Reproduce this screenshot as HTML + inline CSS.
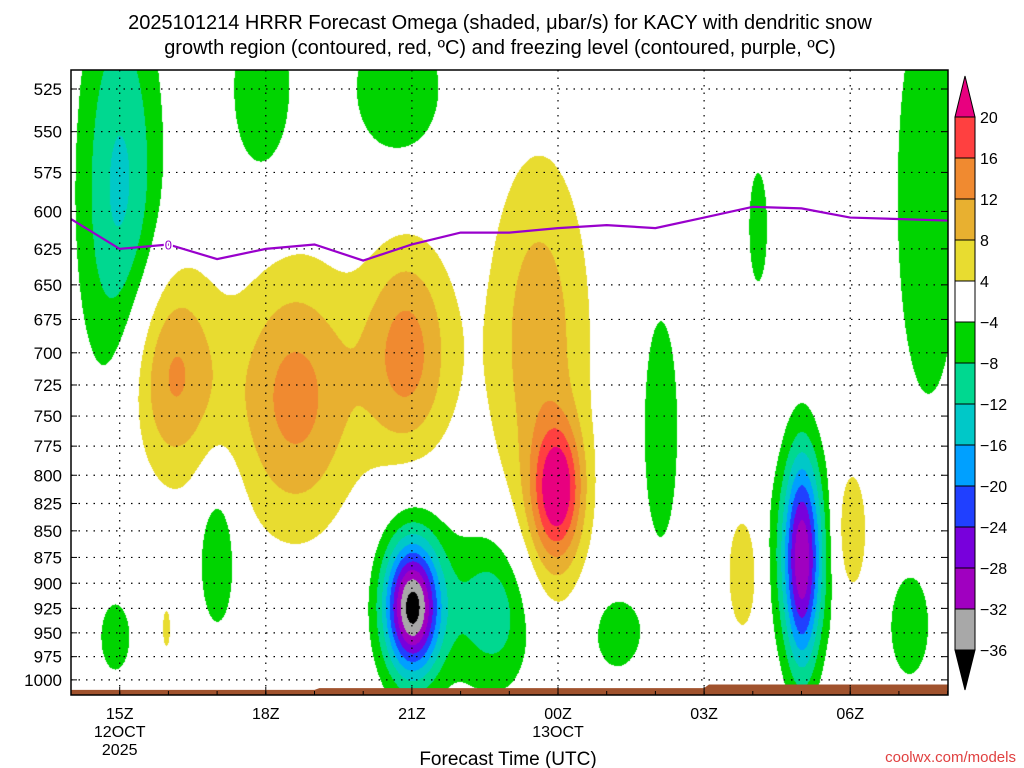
<!DOCTYPE html>
<html><head><meta charset="utf-8">
<style>
body{margin:0;background:#fff;width:1024px;height:768px;overflow:hidden;font-family:"Liberation Sans",sans-serif}
#wrap{position:relative;width:1024px;height:768px}
canvas{position:absolute;left:71px;top:70px}
svg{position:absolute;left:0;top:0}
</style></head><body>
<div id="wrap">
<canvas id="cv" width="877" height="625"></canvas>
<svg id="sv" width="1024" height="768"></svg>
</div>
<script>
// ---- data ----
const pLevels=[525,550,575,600,625,650,675,700,725,750,775,800,825,850,875,900,925,950,975,1000];
const timeHours=[1,4,7,10,13,16];
const timeLabels1=["15Z","18Z","21Z","00Z","03Z","06Z"];
const timeLabels2=["12OCT","","","13OCT","",""];
const timeLabels3=["2025","","","","",""];
// omega features: hour from 14Z, pressure center, amplitude (ubar/s), spread hours, spread hPa
const blobT=[2.0,4.6,6.9,9.6,10.0,13.8,16.0,1.95,1.0,3.9,6.7,7.0,7.0,8.7,15.0,15.0,3.0,0.9,11.2,12.1,14.1,17.6,17.2,9.8];
const blobP=[715,735,700,690,810,890,850,945,590,525,525,925,910,925,880,870,870,955,950,760,610,590,945,860];
const blobA=[13.5,13.5,13.5,10.5,17,8,9,6,-13,-7.5,-7,-30,-8,-11,-22,-10,-8.5,-6,-6.5,-7.5,-6,-7,-6.5,6];
const blobST=[0.7,0.9,0.65,0.75,0.35,0.25,0.25,0.08,0.6,0.5,0.8,0.38,0.6,0.65,0.25,0.5,0.3,0.3,0.45,0.3,0.2,0.6,0.35,0.5];
const blobSP=[60,75,60,100,40,45,45,20,100,40,35,45,70,60,75,70,55,35,35,80,40,120,45,60];
const levels=[-36,-32,-28,-24,-20,-16,-12,-8,-4,4,8,12,16,20];
const colors=["#000000","#a8a8a8","#a000c0","#7800dc","#2040ff","#00a0ff","#00c8c8","#00d890","#00d400","#ffffff","#e8dc30","#e8b030","#f08a30","#ff4040","#e8007f"];
const frzHours=[0,1,2,3,4,5,6,7,8,9,10,11,12,13,14,15,16,18];
const frzP=[605,625,622,632,625,622,633,622,614,614,611,609,611,604,597,598,604,606];
const sfcHours=[0,5,5.1,13,13.1,18];
const sfcP=[1011,1011,1009,1009,1005,1005];
// ---- axes ----
const X0=71,X1=948,Y0=70,Y1=695;
const xS=h=>X0+h*48.7;
const yS=p=>89+917*(Math.log(p)-Math.log(525));
const hInv=x=>(x-X0)/48.7;
const pInv=y=>525*Math.exp((y-89)/917);
// ---- field ----
const cv=document.getElementById('cv'),ctx=cv.getContext('2d');
const W=cv.width,H=cv.height,img=ctx.createImageData(W,H);
const rgb=colors.map(c=>[parseInt(c.substr(1,2),16),parseInt(c.substr(3,2),16),parseInt(c.substr(5,2),16)]);
for(let j=0;j<H;j++){const p=pInv(j+Y0),lp=Math.log(p);
 for(let i=0;i<W;i++){const h=hInv(i+X0);let v=0;
  for(let k=0;k<blobT.length;k++){const dt=(h-blobT[k])/blobST[k];const du=(lp-Math.log(blobP[k]))/(blobSP[k]/blobP[k]);v+=blobA[k]*Math.exp(-0.5*(dt*dt+du*du));}
  let c=0;while(c<levels.length&&v>=levels[c])c++;
  const o=(j*W+i)*4,col=rgb[c];img.data[o]=col[0];img.data[o+1]=col[1];img.data[o+2]=col[2];img.data[o+3]=255;}}
ctx.putImageData(img,0,0);
// ---- svg ----
const sv=document.getElementById('sv');const NS='http://www.w3.org/2000/svg';
function mk(t,a,txt){const e=document.createElementNS(NS,t);for(const k in a)e.setAttribute(k,a[k]);if(txt!==undefined)e.textContent=txt;sv.appendChild(e);return e;}
// terrain
let tp=`M${X0},${Y1}`;sfcHours.forEach((h,i)=>{tp+=` L${xS(h)},${Math.min(yS(sfcP[i]),Y1)}`});tp+=` L${X1},${Y1} Z`;
let e=mk('path',{d:tp,fill:'#a0522d'});


// grid
pLevels.forEach(p=>{const y=yS(p);
 e=mk('line',{x1:X0,x2:X1,y1:y,y2:y,stroke:'#000','stroke-width':1.2,'stroke-dasharray':'1.5,6'});
 
 
 mk('line',{x1:X0,x2:X0+6,y1:y,y2:y,stroke:'#000'});mk('line',{x1:X1-6,x2:X1,y1:y,y2:y,stroke:'#000'});
 e=mk('text',{x:62,y:y+6,'text-anchor':'end','font-size':17,fill:'#000'},String(p));
 
 
});
timeHours.forEach((h,i)=>{const x=xS(h);
 e=mk('line',{x1:x,x2:x,y1:Y0,y2:Y1,stroke:'#000','stroke-width':1.2,'stroke-dasharray':'1.5,6'});
 
 
 mk('line',{x1:x,x2:x,y1:Y1,y2:Y1-8,stroke:'#000'});
 [timeLabels1[i],timeLabels2[i],timeLabels3[i]].forEach((t,k)=>{if(!t)return;
  e=mk('text',{x:x,y:719+k*18,'text-anchor':'middle','font-size':16,fill:'#000'},t);
  
  });
});
for(let h=0;h<=18;h++){const x=xS(h);mk('line',{x1:x,x2:x,y1:Y1,y2:Y1-4,stroke:'#000'});}
// freezing line
e=mk('path',{d:frzHours.map((h,i)=>(i?'L':'M')+xS(h)+','+yS(frzP[i])).join(' '),fill:'none',stroke:'#9900cc','stroke-width':2.2});


e=mk('text',{x:xS(2),y:yS(622)+5,'text-anchor':'middle','font-size':13,fill:'#9900cc',stroke:'#fff','stroke-width':3,'paint-order':'stroke'},'0');


// frame
e=mk('rect',{x:X0,y:Y0,width:X1-X0,height:Y1-Y0,fill:'none',stroke:'#000','stroke-width':1.5});


// colorbar
const CX=955,CW=20,cbY=k=>117+41*(13-k);
e=mk('polygon',{points:`${CX},${cbY(13)} ${CX+CW},${cbY(13)} ${CX+CW/2},76`,fill:colors[14],stroke:'#000'});


for(let k=0;k<13;k++){e=mk('rect',{x:CX,y:cbY(k+1),width:CW,height:41,fill:colors[k+1],stroke:'#000'});
 
 }
e=mk('polygon',{points:`${CX},${cbY(0)} ${CX+CW},${cbY(0)} ${CX+CW/2},690`,fill:colors[0],stroke:'#000'});


levels.forEach((l,k)=>{e=mk('text',{x:980,y:cbY(k)+6,'font-size':16,fill:'#000'},(l<0?'\u2212'+(-l):String(l)));
 
 });
// titles
e=mk('text',{x:500,y:29,'text-anchor':'middle','font-size':20,fill:'#000'},'2025101214 HRRR Forecast Omega (shaded, \u03bcbar/s) for KACY with dendritic snow');


e=mk('text',{x:500,y:54,'text-anchor':'middle','font-size':20,fill:'#000'},'growth region (contoured, red, \u00baC) and freezing level (contoured, purple, \u00baC)');


e=mk('text',{x:508,y:765,'text-anchor':'middle','font-size':19,fill:'#000'},'Forecast Time (UTC)');


e=mk('text',{x:1016,y:762,'text-anchor':'end','font-size':15,fill:'#e04040'},'coolwx.com/models');


</script>
</body></html>
